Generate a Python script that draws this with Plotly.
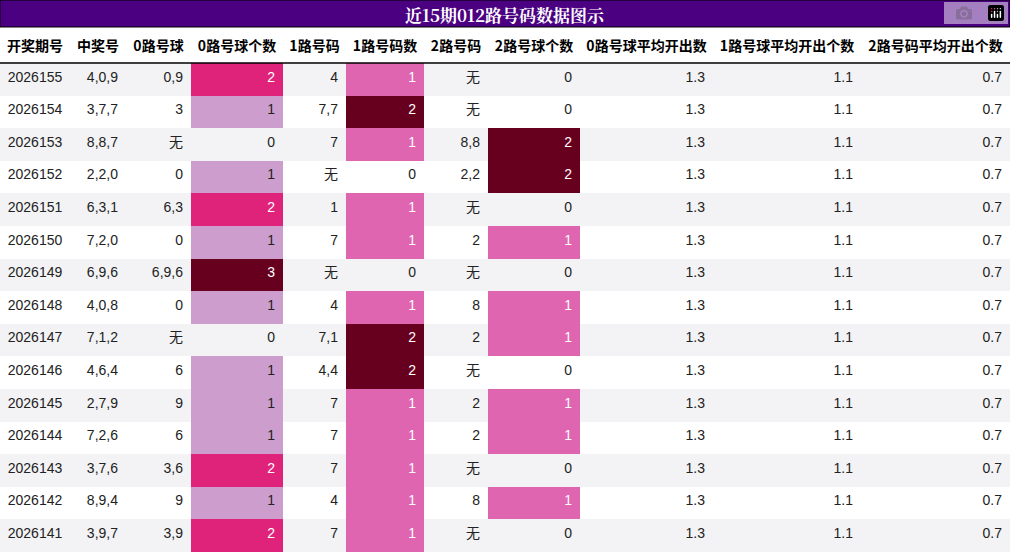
import plotly.graph_objects as go

periods = ["2026155","2026154","2026153","2026152","2026151","2026150","2026149","2026148","2026147","2026146","2026145","2026144","2026143","2026142","2026141"]
winning = ["4,0,9","3,7,7","8,8,7","2,2,0","6,3,1","7,2,0","6,9,6","4,0,8","7,1,2","4,6,4","2,7,9","7,2,6","3,7,6","8,9,4","3,9,7"]
r0 = ["0,9","3","无","0","6,3","0","6,9,6","0","无","6","9","6","3,6","9","3,9"]
r0n = [2,1,0,1,2,1,3,1,0,1,1,1,2,1,2]
r1 = ["4","7,7","7","无","1","7","无","4","7,1","4,4","7","7","7","4","7"]
r1n = [1,2,1,0,1,1,0,1,2,2,1,1,1,1,1]
r2 = ["无","无","8,8","2,2","无","2","无","8","2","无","2","2","无","8","无"]
r2n = [0,0,2,2,0,1,0,1,1,0,1,1,0,1,0]
avg0 = ["1.3"]*15
avg1 = ["1.1"]*15
avg2 = ["0.7"]*15
headers = ["开奖期号","中奖号","0路号球","0路号球个数","1路号码","1路号码数","2路号码","2路号球个数","0路号球平均开出数","1路号球平均开出个数","2路号码平均开出个数"]
title = "近15期012路号码数据图示"

stripe = ["#f3f3f5" if i % 2 == 0 else "#ffffff" for i in range(15)]
c0 = {1: "#cd9ecd", 2: "#e0237a", 3: "#67001f"}
c1 = {1: "#df65b0", 2: "#67001f"}
def fills(vals, cmap):
    return [cmap.get(v, stripe[i]) for i, v in enumerate(vals)]
def fcol(vals, cmap):
    out = []
    for v in vals:
        c = cmap.get(v)
        out.append("#222222" if c in (None, "#cd9ecd") else "white")
    return out

cols = [periods, winning, r0, [str(v) for v in r0n], r1, [str(v) for v in r1n], r2, [str(v) for v in r2n], avg0, avg1, avg2]
fill = [stripe, stripe, stripe, fills(r0n, c0), stripe, fills(r1n, c1), stripe, fills(r2n, c1), stripe, stripe, stripe]
fontc = [["#222222"]*15]*3 + [fcol(r0n, c0), ["#222222"]*15, fcol(r1n, c1), ["#222222"]*15, fcol(r2n, c1)] + [["#222222"]*15]*3
widths = [70, 56, 65, 92, 63, 78, 64, 92, 133, 148, 149]

fig = go.Figure(go.Table(
    columnwidth=widths,
    domain=dict(x=[0, 1], y=[0, 1 - 27/554]),
    header=dict(values=[f"<b>{h}</b>" for h in headers], fill_color="white",
                line=dict(color="white", width=0), align="center", height=36,
                font=dict(family="Noto Sans CJK SC", size=14, color="black")),
    cells=dict(values=cols, fill_color=fill, line=dict(width=0, color="white"),
               align=["center"] + ["right"]*10, height=32.6,
               font=dict(family="Liberation Sans, Noto Sans CJK SC", size=14, color=fontc)),
))
fig.add_shape(type="rect", xref="paper", yref="paper", x0=0, x1=1, y0=1-27/554, y1=1,
              fillcolor="#4b0082", line=dict(color="black", width=1))
fig.add_shape(type="line", xref="paper", yref="paper", x0=0, x1=1, y0=1-63/554, y1=1-63/554,
              line=dict(color="black", width=1.5))
fig.add_annotation(text=f"<b>{title}</b>", xref="paper", yref="paper", x=0.5, y=1-14/554,
                   xanchor="center", yanchor="middle",
                   showarrow=False, font=dict(family="Noto Serif CJK SC, DejaVu Serif, serif", size=17, color="white"))
fig.update_layout(width=1010, height=554, margin=dict(l=0, r=0, t=0, b=0), paper_bgcolor="white")
fig.write_html("out.html", post_script="document.body.style.margin='0';")
